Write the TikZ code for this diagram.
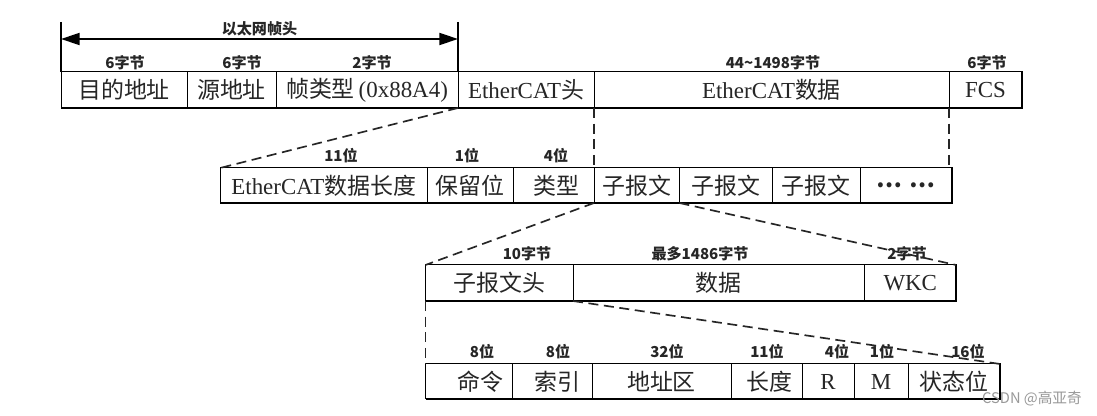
\documentclass[tikz,border=0pt]{standalone}
\usepackage{fontspec}
\setmainfont{Liberation Serif}
\newfontfamily\cjk{Noto Sans CJK SC}
\usetikzlibrary{arrows.meta}
\newcommand\zh[1]{{\cjk #1}}
\tikzset{
  cell/.style={draw=black, line width=0.75pt, inner sep=0pt, outer sep=0pt,
    font=\fontsize{17.2}{19}\selectfont, text=black!85},
  lbl/.style={font=\cjk\bfseries\fontsize{11.3}{12}\selectfont, inner sep=0pt, text=black!85},
  conn/.style={draw=black!85, line width=1.25pt, dash pattern=on 7.5pt off 4.2pt},
  shadeline/.style={line width=1.5pt},
  tick/.style={line width=0.9pt},
  bothtips/.style={line width=1.5pt, {Triangle[length=14pt,width=9pt]}-{Triangle[length=14pt,width=9pt]}}
}
\newcommand\cellnode[6]{\node[cell, minimum width={(#3-#2)*0.75pt}, minimum height={(#5-#4)*0.75pt}] (#1) at ({(#2+#3)/2},{(#4+#5)/2}) {#6};}
\begin{document}
\begin{tikzpicture}[x=0.75pt, y=-0.75pt]
\path[fill=white, use as bounding box] (0,0) rectangle (1097,416);
% Row 1
\cellnode{r1a}{61}{187}{72}{108}{\zh{目的地址}}
\cellnode{r1b}{187}{276}{72}{108}{\zh{源地址}}
\cellnode{r1c}{276}{458}{72}{108}{\zh{帧类型}\,(0x88A4)}
\cellnode{r1d}{458}{594}{72}{108}{EtherCAT\zh{头}}
\cellnode{r1e}{594}{949}{72}{108}{EtherCAT\zh{数据}}
\cellnode{r1f}{949}{1022}{72}{108}{FCS}
\draw[shadeline] (r1a.south west) -- (r1f.south east) -- (r1f.north east);
% Row 2
\cellnode{r2a}{220}{427.5}{168}{203}{EtherCAT\zh{数据长度}}
\cellnode{r2b}{427.5}{513}{168}{203}{\zh{保留位}}
\cellnode{r2c}{513}{594}{168}{203}{\zh{\hspace{4pt}类型}}
\cellnode{r2d}{594}{679.5}{168}{203}{\zh{子报文}}
\cellnode{r2e}{679.5}{772}{168}{203}{\zh{子报文}}
\cellnode{r2f}{772}{860}{168}{203}{\zh{子报文}}
\cellnode{r2g}{860}{952}{168}{203}{\zh{\bfseries …\hspace{6pt}…}}
\draw[shadeline] (r2a.south west) -- (r2g.south east) -- (r2g.north east);
% Row 3
\cellnode{r3a}{425.5}{573}{265}{301}{\zh{子报文头}}
\cellnode{r3b}{573}{864.5}{265}{301}{\zh{数据}}
\cellnode{r3c}{864.5}{956}{265}{301}{WKC}
\draw[shadeline] (r3a.south west) -- (r3c.south east) -- (r3c.north east);
% Row 4
\cellnode{r4a}{425.5}{512}{364}{399}{\zh{\hspace{18pt}命令}}
\cellnode{r4b}{512}{592}{364}{399}{\zh{\hspace{8pt}索引}}
\cellnode{r4c}{592}{731}{364}{399}{\zh{地址区}}
\cellnode{r4d}{731}{802}{364}{399}{\zh{\hspace{4pt}长度}}
\cellnode{r4e}{802}{854}{364}{399}{R}
\cellnode{r4f}{854}{908}{364}{399}{M}
\cellnode{r4g}{908}{1000}{364}{399}{\zh{状态位}}
\draw[shadeline] (r4a.south west) -- (r4g.south east) -- (r4g.north east);
% Header arrow
\coordinate (tL) at (61,22);
\coordinate (tR) at (458,22);
\coordinate (aL) at (61,39);
\coordinate (aR) at (458,39);
\draw[tick] (tL) -- (r1a.north west);
\draw[tick] (tR) -- (r1c.north east);
\draw[bothtips] (aL) -- (aR);
\node[lbl] (hdr) at (259.5,29) {以太网帧头};
% Row 1 labels
\node[lbl] (l1a) at (125,62.7) {6字节};
\node[lbl] (l1b) at (242,62.7) {6字节};
\node[lbl] (l1c) at (372,62.7) {2字节};
\node[lbl] (l1e) at (773,62.7) {44\textasciitilde1498字节};
\node[lbl] (l1f) at (987,62.7) {6字节};
% Row 2 labels
\node[lbl] (l2a) at (341,156) {11位};
\node[lbl] (l2b) at (467,156) {1位};
\node[lbl] (l2c) at (556,156) {4位};
% Row 3 labels
\node[lbl] (l3a) at (527,254) {10字节};
\node[lbl] (l3b) at (700,254) {最多1486字节};
\node[lbl] (l3c) at (907,254) {2字节};
% Row 4 labels
\node[lbl] (l4a) at (482,352) {8位};
\node[lbl] (l4b) at (558,352) {8位};
\node[lbl] (l4c) at (667,352) {32位};
\node[lbl] (l4d) at (767,352) {11位};
\node[lbl] (l4e) at (837,352) {4位};
\node[lbl] (l4f) at (882,352) {1位};
\node[lbl] (l4g) at (968,352) {16位};
% Dashed connectors
\draw[conn] (r1c.south east) -- (r2a.north west);
\draw[conn] (r1e.south west) -- (r2d.north west);
\draw[conn] (r1f.south west) -- (r1f.south west |- r2g.north);
\draw[conn] (r2c.south east) -- (r3a.north west);
\draw[conn] (r2e.south west) -- (r3c.north east);
\draw[conn] (r3a.south west) -- (r4a.north west);
\draw[conn] (r3b.south west) -- (r4g.north east);
% Watermark
\node[font=\cjk\fontsize{11}{12}\selectfont, text=black!40, inner sep=0pt] (wm) at (1032,399) {CSDN @高亚奇};
\end{tikzpicture}
\end{document}
